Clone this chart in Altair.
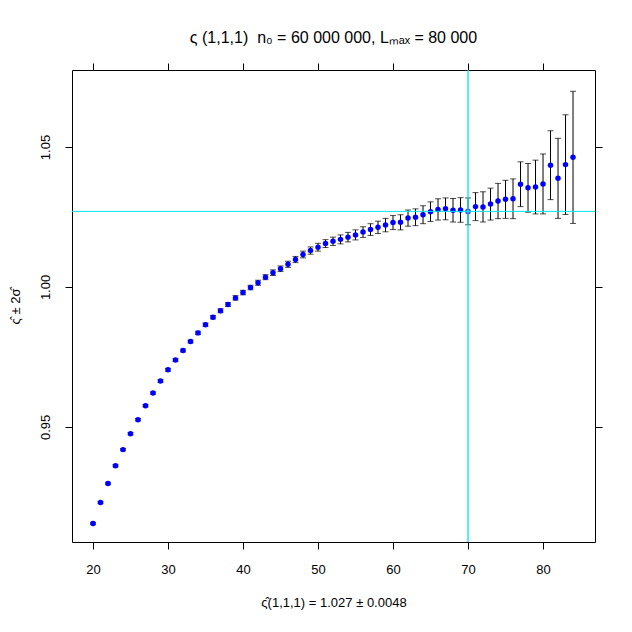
import altair as alt
import pandas as pd

# ---- data ----
n_values = list(range(20, 85))
est_values = [
    0.9155, 0.9230, 0.9298, 0.9361, 0.9419, 0.9476, 0.9526, 0.9576, 0.9621, 0.9664,
    0.9704, 0.9739, 0.9773, 0.9805, 0.9836, 0.9865, 0.9892, 0.9915, 0.9937, 0.9961,
    0.9980, 0.9998, 1.0015, 1.0035, 1.0051, 1.0065, 1.0081, 1.0098, 1.0116, 1.0130,
    1.0142, 1.0155, 1.0163, 1.0170, 1.0178, 1.0186, 1.0196, 1.0205, 1.0213, 1.0221,
    1.0230, 1.0231, 1.0246, 1.0249, 1.0258, 1.0269, 1.0277, 1.0279, 1.0274, 1.0275,
    1.0270, 1.0287, 1.0286, 1.0296, 1.0307, 1.0313, 1.0315, 1.0367, 1.0354, 1.0357,
    1.0368, 1.0435, 1.0388, 1.0437, 1.0463,
]
err_values = [
    0.0004, 0.0004, 0.0004, 0.0004, 0.0004, 0.0004, 0.0004, 0.0004, 0.0004, 0.0005,
    0.0005, 0.0005, 0.0005, 0.0005, 0.0006, 0.0006, 0.0006, 0.0007, 0.0007, 0.0008,
    0.0008, 0.0008, 0.0009, 0.0009, 0.0010, 0.0010, 0.0011, 0.0011, 0.0012, 0.0013,
    0.0014, 0.0014, 0.0015, 0.0016, 0.0017, 0.0018, 0.0019, 0.0021, 0.0022, 0.0024,
    0.0025, 0.0027, 0.0029, 0.0030, 0.0032, 0.0035, 0.0038, 0.0039, 0.0042, 0.0044,
    0.0048, 0.0050, 0.0054, 0.0057, 0.0063, 0.0068, 0.0071, 0.0080, 0.0087, 0.0096,
    0.0107, 0.0123, 0.0143, 0.0178, 0.0236,
]
ref_n = 70
ref_est = 1.027
x_ticks = [20, 30, 40, 50, 60, 70, 80]
y_ticks = [0.95, 1.00, 1.05]
x_domain = [17.2, 86.93]
y_domain = [0.9089, 1.0775]

title_text = "ς (1,1,1)\u00a0\u00a0n₀ = 60 000 000, Lₘₐₓ = 80 000"
x_title = "ς̂(1,1,1) = 1.027 ± 0.0048"
y_title = "ς̂ ± 2σ̂"

df = pd.DataFrame({"n": n_values, "est": est_values, "err": err_values})
df["lo"] = df["est"] - df["err"]
df["hi"] = df["est"] + df["err"]
df["sel"] = df["n"] == ref_n

FONT = "Liberation Sans"
xs = alt.Scale(domain=x_domain, nice=False, zero=False)
ys = alt.Scale(domain=y_domain, nice=False, zero=False)

ax_bottom = alt.Axis(orient="bottom", values=x_ticks, format="d", title=x_title,
                     tickSize=7, labelPadding=14, titlePadding=20, domain=False,
                     grid=False, labelFontSize=13, titleFontSize=13,
                     labelFont=FONT, titleFont=FONT, titleFontWeight="normal",
                     tickColor="black", labelColor="black", titleColor="black")
ax_left = alt.Axis(orient="left", values=y_ticks, format=".2f", title=y_title,
                   tickSize=7, labelPadding=13, titlePadding=17, domain=False,
                   grid=False, labelAngle=-90, labelFontSize=13, titleFontSize=13,
                   labelFont=FONT, titleFont=FONT, titleFontWeight="normal",
                   tickColor="black", labelColor="black", titleColor="black")
ax_top = alt.Axis(orient="top", values=x_ticks, labels=False, title=None,
                  tickSize=7, domain=False, grid=False, tickColor="black")
ax_right = alt.Axis(orient="right", values=y_ticks, labels=False, title=None,
                    tickSize=7, domain=False, grid=False, tickColor="black")

base = alt.Chart(df)

bars = base.mark_rule(color="black", strokeWidth=1).encode(
    x=alt.X("n:Q", scale=xs, axis=ax_bottom),
    y=alt.Y("lo:Q", scale=ys, axis=ax_left),
    y2="hi:Q",
)
cap_hi = base.mark_tick(color="black", orient="horizontal", size=6, thickness=1).encode(
    x=alt.X("n:Q", scale=xs, axis=None),
    y=alt.Y("hi:Q", scale=ys, axis=None),
)
cap_lo = base.mark_tick(color="black", orient="horizontal", size=6, thickness=1).encode(
    x=alt.X("n:Q", scale=xs, axis=None),
    y=alt.Y("lo:Q", scale=ys, axis=None),
)
points = base.transform_filter("!datum.sel").mark_circle(color="#0000ff", opacity=1, size=30).encode(
    x=alt.X("n:Q", scale=xs, axis=ax_top),
    y=alt.Y("est:Q", scale=ys, axis=ax_right),
)
point_sel = base.transform_filter("datum.sel").mark_point(color="#0000ff", filled=False, size=18, strokeWidth=1.5).encode(
    x=alt.X("n:Q", scale=xs, axis=None),
    y=alt.Y("est:Q", scale=ys, axis=None),
)
vline = alt.Chart(pd.DataFrame({"n": [ref_n]})).mark_rule(color="#00e5ee", strokeWidth=1.3).encode(
    x=alt.X("n:Q", scale=xs, axis=None),
)
hline = alt.Chart(pd.DataFrame({"est": [ref_est]})).mark_rule(color="#00e5ee", strokeWidth=1).encode(
    y=alt.Y("est:Q", scale=ys, axis=None),
)

chart = alt.layer(bars, cap_hi, cap_lo, points, point_sel, vline, hline).resolve_axis(
    x="independent", y="independent"
).properties(
    width=523, height=472,
    autosize=alt.AutoSizeParams(type="none"),
    padding={"left": 64, "top": 62, "right": 29, "bottom": 82},
    title=alt.TitleParams(title_text, fontSize=16, font=FONT, fontWeight="normal",
                          anchor="middle", offset=17, color="black"),
).configure_view(stroke="black", strokeWidth=1)

chart.save("out.html", embed_options={"renderer": "svg", "actions": False})
